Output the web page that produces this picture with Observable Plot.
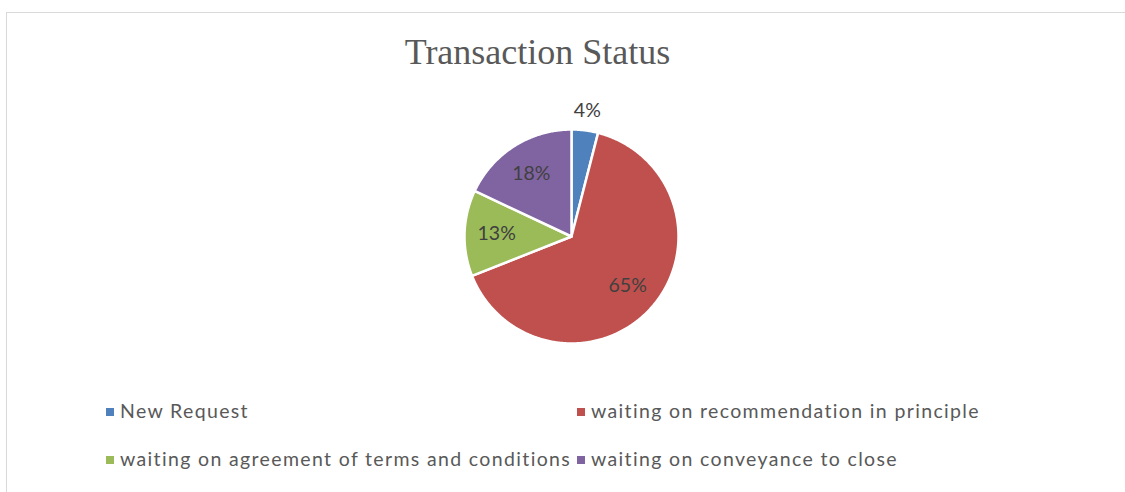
<!DOCTYPE html>
<html>
<head>
<meta charset="utf-8">
<script src="https://cdn.jsdelivr.net/npm/d3@7"></script>
<script src="https://cdn.jsdelivr.net/npm/@observablehq/plot@0.6"></script>
<style>
  html, body { margin: 0; padding: 0; background: #fff; }
  body { width: 1125px; height: 492px; position: relative; overflow: hidden; }
  #frame { position: absolute; left: 6px; top: 12px; width: 1125px; height: 490px;
           border-top: 1.5px solid #d9d9d9; border-left: 1.5px solid #d9d9d9; }
  #title { position: absolute; left: 0; width: 1075px; top: 30px; text-align: center;
           font-family: "Liberation Serif", serif; font-size: 36px; color: #595959; line-height: 44px; }
  #chart { position: absolute; left: 0; top: 90px; }
  .leg { position: absolute; font-family: Lato, "Noto Sans", sans-serif; font-size: 19.5px; color: #595959;
         white-space: nowrap; line-height: 24px; letter-spacing: 1.35px; }
  .leg .sw { display: inline-block; width: 8px; height: 8px; margin-right: 6px; vertical-align: 2px; }
</style>
</head>
<body>
<div id="frame"></div>
<div id="title"></div>
<div id="chart"></div>
<div id="legend"></div>
<script>
const title = "Transaction Status";
const categories = ["New Request", "waiting on recommendation in principle", "waiting on agreement of terms and conditions", "waiting on conveyance to close"];
const values = [4, 65, 13, 18];
const colors = ["#4f81bd", "#c0504d", "#9bbb59", "#8064a2"];

document.getElementById("title").textContent = title;

const W = 1125, H = 280;
const cx = 571, cy = 146, R = 107;

const pie = d3.pie().sort(null).value(d => d.value);
const arcs = pie(categories.map((c, i) => ({category: c, value: values[i]})));
const total = d3.sum(values);

// polygon points per slice (angle measured clockwise from 12 o'clock)
const pts = [];
arcs.forEach(a => {
  const n = Math.max(2, Math.ceil((a.endAngle - a.startAngle) / 0.01));
  pts.push({category: a.data.category, x: 0, y: 0});
  for (let k = 0; k <= n; k++) {
    const t = a.startAngle + (a.endAngle - a.startAngle) * k / n;
    pts.push({category: a.data.category, x: Math.sin(t), y: Math.cos(t)});
  }
  pts.push({category: a.data.category, x: 0, y: 0});
});

const labels = arcs.map(a => {
  const m = (a.startAngle + a.endAngle) / 2;
  const share = a.data.value / total;
  const r = share < 0.06 ? 1.18 : 0.70;
  return {x: r * Math.sin(m), y: r * Math.cos(m), text: Math.round(share * 100) + "%"};
});

const plot = Plot.plot({
  width: W, height: H,
  margin: 0,
  x: {domain: [-cx / R, (W - cx) / R], axis: null},
  y: {domain: [-(H - cy) / R, cy / R], axis: null},
  color: {domain: categories, range: colors},
  marks: [
    Plot.line(pts, {x: "x", y: "y", z: "category", fill: "category", stroke: "white", strokeWidth: 2.5, strokeLinejoin: "round", curve: "linear"}),
    Plot.text(labels, {x: "x", y: "y", text: "text", fill: "#404040", fontSize: 19.5, fontFamily: "Lato, 'Noto Sans', sans-serif", letterSpacing: "1.4px"})
  ]
});
document.getElementById("chart").appendChild(plot);

// legend
const legPos = [[106, 399], [577, 399], [106, 447], [577, 447]];
const leg = document.getElementById("legend");
categories.forEach((c, i) => {
  const d = document.createElement("div");
  d.className = "leg";
  d.style.left = legPos[i][0] + "px";
  d.style.top = legPos[i][1] + "px";
  d.innerHTML = `<span class="sw" style="background:${colors[i]}"></span>`;
  d.appendChild(document.createTextNode(c));
  leg.appendChild(d);
});
</script>
</body>
</html>
